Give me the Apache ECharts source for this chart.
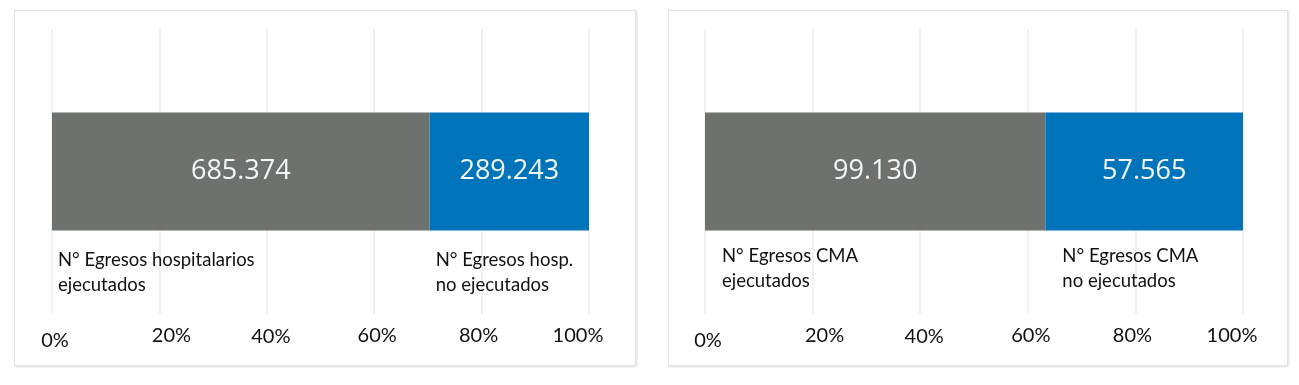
<!DOCTYPE html>
<html>
<head>
<meta charset="utf-8">
<script src="https://cdn.jsdelivr.net/npm/echarts@6/dist/echarts.min.js"></script>
<style>
  html, body { margin: 0; padding: 0; background: #ffffff; width: 1299px; height: 385px; overflow: hidden; }
  .panel { position: absolute; top: 10px; height: 354px; border: 1px solid #e2e2e2; box-shadow: 1px 1px 2px rgba(0,0,0,0.12); background: #fff; }
  .chart { position: absolute; left: 0; top: 0; width: 100%; height: 100%; }
</style>
</head>
<body>
<div class="panel" id="p0" style="left:14px; width:620px;"><div class="chart" id="c0"></div></div>
<div class="panel" id="p1" style="left:668px; width:618px;"><div class="chart" id="c1"></div></div>
<script>
// ---- data ----
const panelIds = ['Egresos hospitalarios', 'Egresos CMA'];
const executed = [685374, 99130];
const notExecuted = [289243, 57565];
const executedNames = ['N° Egresos hospitalarios\nejecutados', 'N° Egresos CMA\nejecutados'];
const notExecutedNames = ['N° Egresos hosp.\nno ejecutados', 'N° Egresos CMA\nno ejecutados'];
const tickValues = [0, 20, 40, 60, 80, 100];
const tickLabels = ['0%', '20%', '40%', '60%', '80%', '100%'];

// ---- styles ----
const GRAY = '#6d726f';
const BLUE = '#0074bb';
const gridLayouts = [
  { left: 37, right: 46, top: 18, bottom: 51 },
  { left: 36, right: 44, top: 18, bottom: 51 }
];
const nameOffsets = [ { dx: 6, dy: 17 }, { dx: 17, dy: 13 } ];
const tickDx = [3, 12, 4, 3, -3, -11];
const tickDy = [5, 0, 1, 0, 0, 0];

function fmt(v) { return String(v).replace(/\B(?=(\d{3})+(?!\d))/g, '.'); }

function tickRich() {
  const rich = {};
  tickDx.forEach((dx, i) => {
    rich['t' + i] = {
      fontFamily: 'Lato', fontSize: 20, color: '#111', lineHeight: 20,
      padding: [tickDy[i] * 2, dx < 0 ? -dx * 2 : 0, 0, dx > 0 ? dx * 2 : 0]
    };
  });
  return rich;
}

function build(i) {
  const total = executed[i] + notExecuted[i];
  const pE = executed[i] / total * 100;
  const pN = notExecuted[i] / total * 100;
  const off = nameOffsets[i];
  const nameLabel = {
    show: true, color: '#111', fontFamily: 'Lato', fontSize: 18.5, lineHeight: 25,
    align: 'left', verticalAlign: 'top'
  };
  const layoutFn = function (p) {
    return { x: p.rect.x + off.dx, y: p.rect.y + p.rect.height + off.dy, align: 'left', verticalAlign: 'top' };
  };
  const valueLabel = {
    show: true, position: 'inside', fontFamily: 'Open Sans', fontSize: 27, color: '#f4f7f7'
  };
  return {
    animation: false,
    grid: gridLayouts[i],
    xAxis: {
      type: 'value', min: 0, max: 100, interval: 20,
      axisLine: { show: false }, axisTick: { show: false },
      splitLine: { show: true, lineStyle: { color: '#f1f1f1', width: 2 } },
      axisLabel: {
        margin: 12,
        formatter: function (v) {
          const idx = tickValues.indexOf(v);
          return '{t' + idx + '|' + tickLabels[idx] + '}';
        },
        rich: tickRich()
      }
    },
    yAxis: {
      type: 'category', data: [panelIds[i]], show: false
    },
    series: [
      {
        type: 'bar', stack: 'v', barWidth: 118, data: [pE],
        itemStyle: { color: GRAY },
        label: Object.assign({}, valueLabel, { formatter: () => fmt(executed[i]) })
      },
      {
        type: 'bar', stack: 'v', barWidth: 118, data: [pN],
        itemStyle: { color: BLUE },
        label: Object.assign({}, valueLabel, { formatter: () => fmt(notExecuted[i]) })
      },
      {
        type: 'bar', stack: 'n', barWidth: 118, barGap: '-100%', data: [pE],
        itemStyle: { color: 'rgba(0,0,0,0)' }, silent: true,
        label: Object.assign({}, nameLabel, { formatter: () => executedNames[i] }),
        labelLayout: layoutFn
      },
      {
        type: 'bar', stack: 'n', barWidth: 118, barGap: '-100%', data: [pN],
        itemStyle: { color: 'rgba(0,0,0,0)' }, silent: true,
        label: Object.assign({}, nameLabel, { formatter: () => notExecutedNames[i] }),
        labelLayout: layoutFn
      }
    ]
  };
}

[0, 1].forEach(i => {
  const chart = echarts.init(document.getElementById('c' + i), null, { renderer: 'canvas' });
  chart.setOption(build(i));
});
</script>
</body>
</html>
